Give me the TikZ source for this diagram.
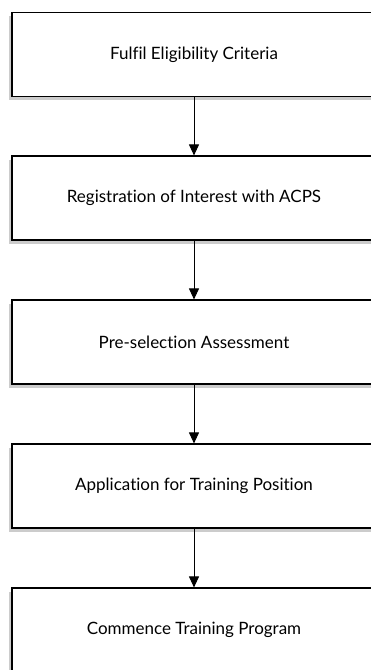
\documentclass[tikz,border=0pt]{standalone}
\usepackage{fontspec}
\setmainfont{Lato}[Ligatures={NoCommon}]
\usepackage{tikz}
\usetikzlibrary{arrows.meta,positioning,shadows}

\begin{document}
\begin{tikzpicture}[
    x=1pt, y=1pt,
    box/.style={draw, fill=white, line width=1.1pt, minimum height=84pt,
                minimum width=364pt, align=center, font=\fontsize{17}{20}\selectfont,
                drop shadow={shadow xshift=-3pt, shadow yshift=-4pt, opacity=0.4}},
    arrow/.style={-{Triangle[length=11pt,width=10pt]}, line width=0.9pt}
  ]
    \useasboundingbox (0,0) rectangle (371,670);

    % Steps
    \node[box] (criteria) at (194,615.5) {Fulfil Eligibility Criteria};
    \node[box] (register) at (194,472) {Registration of Interest with ACPS};
    \node[box] (assess) at (194,328) {Pre-selection Assessment};
    \node[box] (apply) at (194,184) {Application for Training Position};
    \node[box] (commence) at (194,40) {Commence Training Program};

    % Arrows
    \draw[arrow] (criteria) -- (register);
    \draw[arrow] (register) -- (assess);
    \draw[arrow] (assess) -- (apply);
    \draw[arrow] (apply) -- (commence);
  \end{tikzpicture}
\end{document}
